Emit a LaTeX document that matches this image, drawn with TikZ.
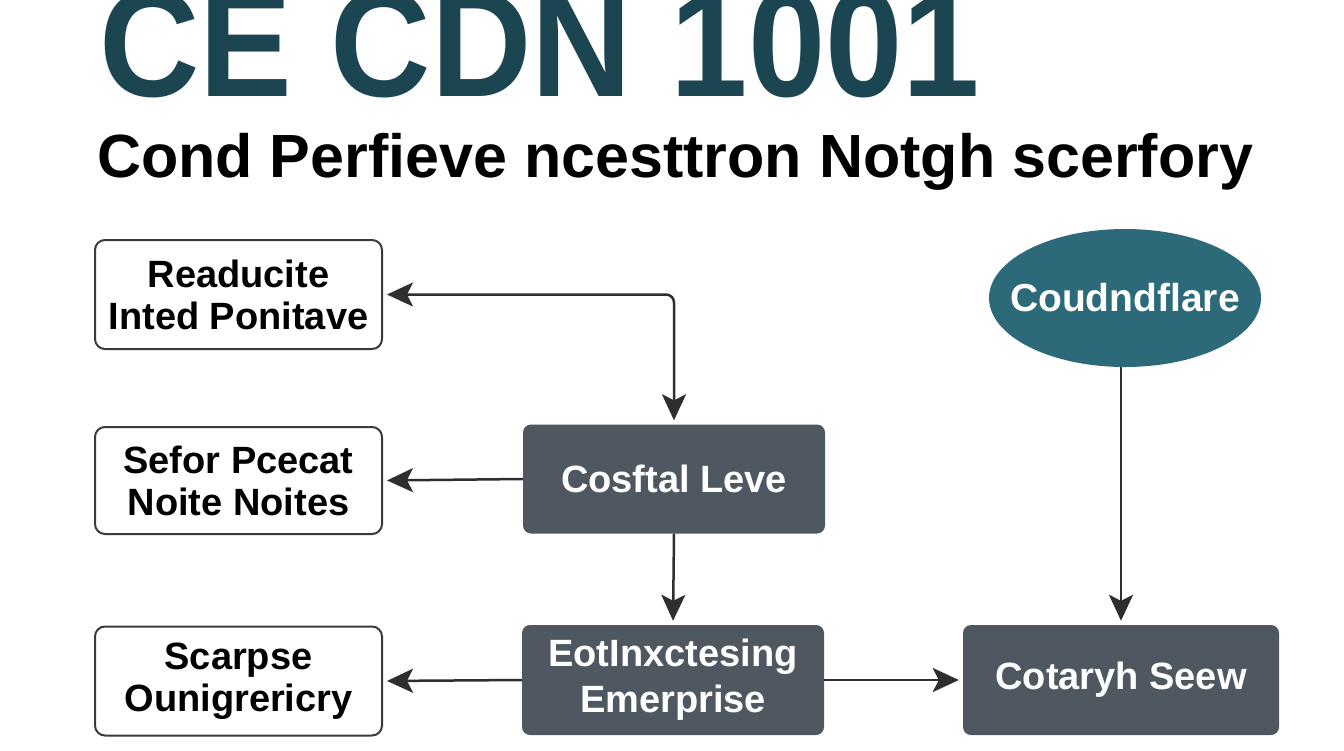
\documentclass[tikz,border=0pt]{standalone}
\usepackage{fontspec}
\setmainfont{Liberation Sans}
\usetikzlibrary{arrows.meta,shapes.geometric}
\definecolor{titlecol}{HTML}{1B4551}
\definecolor{boxline}{HTML}{3A3A3A}
\definecolor{darkfill}{HTML}{4F5861}
\definecolor{ellfill}{HTML}{2D6A79}
\definecolor{arrowcol}{HTML}{2E2E2E}
\begin{document}
\begin{tikzpicture}[x=1pt,y=-1pt,
  lightbox/.style={draw=boxline, line width=2pt, rounded corners=10pt, fill=white,
    minimum width=287pt, minimum height=109pt, align=center, inner sep=0pt,
    font=\fontsize{38}{42}\selectfont\bfseries},
  darkbox/.style={fill=darkfill, rounded corners=8pt, text=white,
    minimum width=302pt, minimum height=109pt, align=center, inner sep=0pt,
    font=\fontsize{38}{46}\selectfont\bfseries},
  ellnode/.style={ellipse, fill=ellfill, text=white, minimum width=272pt,
    minimum height=138pt, inner xsep=-20pt, inner ysep=0pt,
    font=\fontsize{39}{42}\selectfont\bfseries},
  conn/.style={line width=2.5pt, draw=arrowcol,
    -{Stealth[length=26pt,width=24pt,inset=6pt]}, shorten >=4pt},
  bothconn/.style={line width=2.5pt, draw=arrowcol, rounded corners=8pt,
    {Stealth[length=26pt,width=24pt,inset=6pt]}-{Stealth[length=26pt,width=24pt,inset=6pt]},
    shorten >=4pt, shorten <=4pt}
]
\useasboundingbox (0,0) rectangle (1344,750);
\fill[white] (0,0) rectangle (1344,750);

\begin{scope}[shift={(99,96)}, xscale=0.915]
\node[anchor=base west, inner sep=0pt, text=titlecol, transform shape,
  font=\fontsize{152}{160}\selectfont\bfseries] (title) at (0,0) {CE CDN 1001};
\end{scope}
\node[anchor=base west, inner sep=0pt, text=black,
  font=\fontsize{61}{70}\selectfont\bfseries] (sub) at (97,177) {Cond Perfieve ncesttron Notgh scerfory};

\node[lightbox] (A) at (238.5,294.5) {Readucite\\Inted Ponitave};
\node[lightbox, minimum height=107pt] (B) at (238.5,480.5) {Sefor Pcecat\\Noite Noites};
\node[lightbox] (C) at (238.5,681) {Scarpse\\Ounigrericry};

\node[darkbox] (costal) at (674,479) {Cosftal Leve};
\node[darkbox, minimum height=110pt] (eotl) at (673,680) {EotInxctesing\\Emerprise};
\node[darkbox, minimum width=316pt, minimum height=110pt] (cot) at (1121,680) {Cotaryh Seew};

\node[ellnode] (ell) at (1125,298) {Coudndflare};

\draw[bothconn] (A.east) -| (costal.north);
\draw[conn] (costal.west) -- (B.east);
\draw[conn] (costal.south) -- (eotl.north);
\draw[conn] (eotl.west) -- (C.east);
\draw[conn] (eotl.east) -- (cot.west);
\draw[conn] (cot.north |- ell.south) -- (cot.north);
\end{tikzpicture}
\end{document}
